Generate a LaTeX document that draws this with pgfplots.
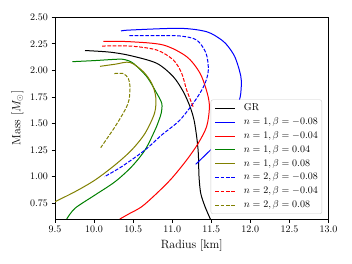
\documentclass[border=0pt]{standalone}
\usepackage{pgfplots}
\pgfplotsset{compat=1.18}
\definecolor{mblue}{rgb}{0,0,1}
\definecolor{mred}{rgb}{1,0,0}
\definecolor{mgreen}{rgb}{0,0.5,0}
\definecolor{molive}{rgb}{0.5,0.5,0}
\definecolor{legframe}{rgb}{0.8,0.8,0.8}
\begin{document}
\begin{tikzpicture}
\useasboundingbox (-55pt,-45pt) rectangle (297pt,219pt);
\begin{axis}[
  scale only axis,
  width=273.5pt, height=201.7pt,
  xmin=9.5, xmax=13, ymin=0.6, ymax=2.5,
  xtick={9.5,10,10.5,11,11.5,12,12.5,13},
  ytick={0.75,1,1.25,1.5,1.75,2,2.25,2.5},
  xticklabel style={/pgf/number format/.cd,fixed,fixed zerofill,precision=1},
  yticklabel style={/pgf/number format/.cd,fixed,fixed zerofill,precision=2},
  tick align=outside, xtick pos=bottom, ytick pos=left,
  major tick length=3.5pt,
  every tick/.style={black, line width=0.8pt},
  axis line style={line width=0.8pt},
  tick label style={font=\fontsize{10}{12}\selectfont},
  label style={font=\fontsize{12}{14}\selectfont},
  xlabel={Radius [km]}, ylabel={Mass [$M_\odot$]},
  legend cell align=left,
  legend style={at={(1,0)}, anchor=south east, xshift=-6.5pt, yshift=5pt,
    draw=legframe, fill=white, rounded corners=2pt,
    font=\fontsize{10}{12}\selectfont,
    inner xsep=4pt, inner ysep=3.7pt, row sep=3.8pt, column sep=0pt,
    nodes={inner sep=0pt, text height=7.5pt, text depth=2.5pt}},
  legend image code/.code={\draw[#1] plot coordinates {(0pt,0pt) (10pt,0pt) (20pt,0pt)};\path (28pt,0pt);},
  every axis plot/.append style={line width=1pt},
]
\addplot[black, smooth, tension=0.5] coordinates {(9.884,2.187)(10.2,2.172)(10.46,2.14)(10.801,2.067)(11.014,1.94)(11.142,1.799)(11.228,1.658)(11.279,1.533)(11.313,1.375)(11.334,1.219)(11.343,1.0)(11.365,0.842)(11.42,0.716)(11.488,0.6)};
\addlegendentry{GR}
\addplot[mblue, smooth, tension=0.5] coordinates {(10.345,2.371)(10.46,2.38)(11.1,2.396)(11.441,2.364)(11.633,2.286)(11.718,2.223)(11.80,2.13)(11.86,2.0)(11.885,1.9)(11.87,1.75)(11.8,1.6)(11.68,1.45)(11.548,1.297)(11.42,1.2)(11.30,1.115)};
\addlegendentry{$n=1, \beta=-0.08$}
\addplot[mred, smooth, tension=0.5] coordinates {(10.119,2.274)(10.46,2.27)(10.886,2.239)(11.185,2.129)(11.356,1.973)(11.449,1.784)(11.476,1.65)(11.44,1.47)(11.33,1.31)(11.185,1.156)(10.99,0.98)(10.80,0.84)(10.61,0.716)(10.45,0.65)(10.33,0.6)};
\addlegendentry{$n=1, \beta=-0.04$}
\addplot[mgreen, smooth, tension=0.5] coordinates {(9.722,2.082)(10.0,2.092)(10.3,2.105)(10.4,2.1)(10.503,2.066)(10.674,1.941)(10.79,1.8)(10.866,1.69)(10.86,1.6)(10.83,1.53)(10.78,1.438)(10.652,1.25)(10.481,1.093)(10.268,0.951)(10.012,0.826)(9.756,0.701)(9.65,0.6)};
\addlegendentry{$n=1, \beta=0.04$}
\addplot[molive, smooth, tension=0.5] coordinates {(10.076,2.038)(10.27,2.058)(10.46,2.075)(10.631,1.987)(10.738,1.877)(10.789,1.75)(10.775,1.6)(10.652,1.407)(10.481,1.25)(10.268,1.109)(10.012,0.967)(9.756,0.857)(9.5,0.763)};
\addlegendentry{$n=1, \beta=0.08$}
\addplot[mblue, smooth, tension=0.5, dash pattern=on 3.7pt off 1.6pt] coordinates {(10.452,2.327)(10.8,2.328)(11.1,2.324)(11.313,2.286)(11.433,2.161)(11.462,2.004)(11.42,1.878)(11.313,1.737)(11.1,1.533)(10.865,1.391)(10.652,1.25)(10.353,1.093)(10.131,0.998)};
\addlegendentry{$n=2, \beta=-0.08$}
\addplot[mred, smooth, tension=0.5, dash pattern=on 3.7pt off 1.6pt] coordinates {(10.102,2.229)(10.46,2.229)(10.801,2.192)(11.014,2.098)(11.121,1.973)(11.185,1.815)(11.27,1.652)};
\addlegendentry{$n=2, \beta=-0.04$}
\addplot[molive, smooth, tension=0.5, dash pattern=on 3.7pt off 1.6pt] coordinates {(10.26,1.97)(10.375,1.97)(10.439,1.922)(10.46,1.846)(10.447,1.721)(10.396,1.627)(10.268,1.469)(10.085,1.272)};
\addlegendentry{$n=2, \beta=0.08$}
\end{axis}
\end{tikzpicture}
\end{document}
